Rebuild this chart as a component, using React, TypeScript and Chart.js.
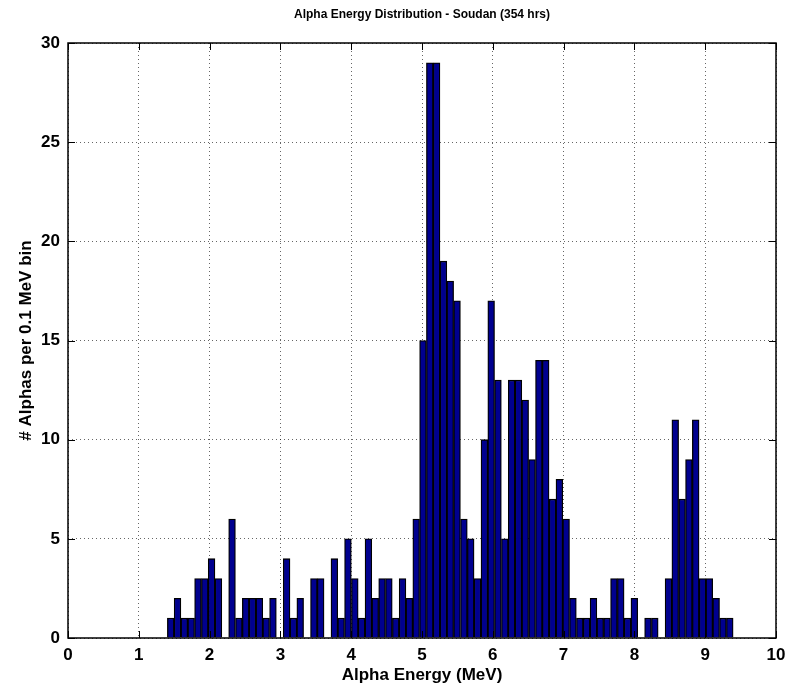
import React, { useEffect, useRef } from "react";
import { Chart, registerables } from "chart.js";
Chart.register(...registerables);

const chartTitle = "Alpha Energy Distribution - Soudan (354 hrs)";
const xTitle = "Alpha Energy (MeV)";
const yTitle = "# Alphas per 0.1 MeV bin";

const binCenters = [
  1.451, 1.547, 1.643, 1.740, 1.836, 1.932, 2.028, 2.125, 2.221, 2.317,
  2.414, 2.510, 2.606, 2.703, 2.799, 2.895, 2.991, 3.088, 3.184, 3.280,
  3.377, 3.473, 3.569, 3.665, 3.762, 3.858, 3.954, 4.051, 4.147, 4.243,
  4.340, 4.436, 4.532, 4.629, 4.725, 4.821, 4.918, 5.014, 5.110, 5.206,
  5.303, 5.399, 5.495, 5.592, 5.688, 5.784, 5.881, 5.977, 6.073, 6.170,
  6.266, 6.362, 6.458, 6.555, 6.651, 6.747, 6.844, 6.940, 7.036, 7.132,
  7.229, 7.325, 7.422, 7.518, 7.614, 7.711, 7.807, 7.903, 7.999, 8.095,
  8.192, 8.288, 8.385, 8.481, 8.577, 8.674, 8.770, 8.866, 8.963, 9.058,
  9.155, 9.251, 9.347,
];

const counts = [
  1, 2, 1, 1, 3, 3, 4, 3, 0, 6,
  1, 2, 2, 2, 1, 2, 0, 4, 1, 2,
  0, 3, 3, 0, 4, 1, 5, 3, 1, 5,
  2, 3, 3, 1, 3, 2, 6, 15, 29, 29,
  19, 18, 17, 6, 5, 3, 10, 17, 13, 5,
  13, 13, 12, 9, 14, 14, 7, 8, 6, 2,
  1, 1, 2, 1, 1, 3, 3, 1, 2, 0,
  1, 1, 0, 3, 11, 7, 9, 11, 3, 3,
  2, 1, 1,
];

const xTicks = [0, 1, 2, 3, 4, 5, 6, 7, 8, 9, 10];
const yTicks = [0, 5, 10, 15, 20, 25, 30];

const FONT = "'Liberation Sans', Arial, Helvetica, sans-serif";

const framePlugin = {
  id: "matlabFrame",
  afterDraw(chart: any) {
    const { ctx, chartArea } = chart;
    const { left, right, top, bottom } = chartArea;
    const xs = chart.scales.x;
    const ys = chart.scales.y;
    ctx.save();
    ctx.strokeStyle = "#000";
    ctx.lineWidth = 1;
    const tl = 7;
    ctx.beginPath();
    for (const v of xTicks) {
      const px = Math.round(xs.getPixelForValue(v)) + 0.5;
      ctx.moveTo(px, bottom);
      ctx.lineTo(px, bottom - tl);
      ctx.moveTo(px, top);
      ctx.lineTo(px, top + tl);
    }
    for (const v of yTicks) {
      const py = Math.round(ys.getPixelForValue(v)) + 0.5;
      ctx.moveTo(left, py);
      ctx.lineTo(left + tl, py);
      ctx.moveTo(right, py);
      ctx.lineTo(right - tl, py);
    }
    ctx.stroke();
    ctx.lineWidth = 1.5;
    ctx.strokeRect(left, top, right - left, bottom - top);

    ctx.fillStyle = "#000";
    ctx.textAlign = "center";
    ctx.textBaseline = "middle";
    ctx.font = `bold 12px ${FONT}`;
    ctx.fillText(chartTitle, (left + right) / 2, 15);
    ctx.font = `bold 17px ${FONT}`;
    ctx.fillText(xTitle, (left + right) / 2, 675);
    ctx.save();
    ctx.translate(26, (top + bottom) / 2);
    ctx.rotate(-Math.PI / 2);
    ctx.fillText(yTitle, 0, 0);
    ctx.restore();
    ctx.restore();
  },
};

export default function App() {
  const ref = useRef<HTMLCanvasElement | null>(null);
  useEffect(() => {
    if (!ref.current) return;
    const chart = new Chart(ref.current, {
      type: "bar",
      data: {
        datasets: [
          {
            data: binCenters.map((c, i) => ({ x: c, y: counts[i] })),
            backgroundColor: "#00008f",
            borderColor: "#000000",
            borderWidth: 1.3,
            barPercentage: 1,
            categoryPercentage: 1,
          },
        ],
      },
      options: {
        animation: false,
        responsive: false,
        devicePixelRatio: 1,
        layout: { padding: { left: 0, right: 14, top: 43, bottom: 0 } },
        plugins: { legend: { display: false }, tooltip: { enabled: false }, title: { display: false } },
        scales: {
          x: {
            type: "linear",
            min: 0,
            max: 10,
            offset: false,
            afterFit: (s: any) => { s.height = 48; s.paddingLeft = 0; s.paddingRight = 0; },
            afterBuildTicks: (s: any) => { s.ticks = xTicks.map((v) => ({ value: v })); },
            grid: { offset: false, color: "rgba(0,0,0,0.6)", lineWidth: 1, drawTicks: false },
            border: { display: false, dash: [1, 3] },
            ticks: { color: "#000", font: { family: FONT, size: 17, weight: "bold" }, padding: 7, maxRotation: 0 },
          },
          y: {
            min: 0,
            max: 30,
            afterFit: (s: any) => { s.width = 68; s.paddingTop = 0; s.paddingBottom = 0; },
            afterBuildTicks: (s: any) => { s.ticks = yTicks.map((v) => ({ value: v })); },
            grid: { color: "rgba(0,0,0,0.6)", lineWidth: 1, drawTicks: false },
            border: { display: false, dash: [1, 3] },
            ticks: { color: "#000", font: { family: FONT, size: 17, weight: "bold" }, padding: 8 },
          },
        },
      },
      plugins: [framePlugin],
    } as any);
    return () => chart.destroy();
  }, []);
  return (
    <canvas
      ref={ref}
      width={790}
      height={686}
      style={{ position: "absolute", left: 0, top: 0, width: 790, height: 686, background: "#fff" }}
    />
  );
}
